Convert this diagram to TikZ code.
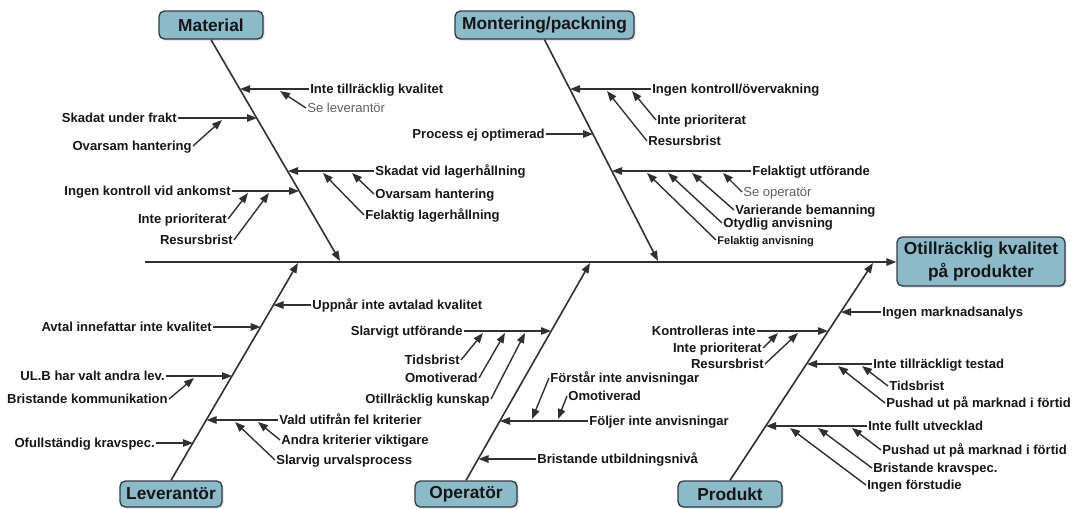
\documentclass[tikz,border=0pt]{standalone}
\usepackage{fontspec}
\setmainfont{Liberation Sans}
\usetikzlibrary{arrows.meta,shadows}
\definecolor{boxfill}{RGB}{141,186,201}
\definecolor{boxline}{RGB}{50,60,66}
\definecolor{ink}{RGB}{22,22,22}
\definecolor{wirec}{RGB}{48,48,48}
\definecolor{notec}{RGB}{95,95,95}
\begin{document}
\begin{tikzpicture}[x=0.75pt,y=-0.75pt,
  arr/.style={-{Triangle[length=7.5pt,width=5.6pt]}},
  spineline/.style={draw=wirec, line width=1.3pt, arr},
  boneline/.style={draw=wirec, line width=1.2pt, arr},
  branch/.style={draw=wirec, line width=1.05pt, arr},
  cause/.style={font=\bfseries\fontsize{9.8pt}{11pt}\selectfont, text=ink,
                inner sep=0.8pt, text height=7pt, text depth=0pt},
  smallcause/.style={cause, font=\bfseries\fontsize{8.3pt}{10pt}\selectfont, text height=6pt},
  note/.style={cause, font=\fontsize{9.8pt}{11pt}\selectfont, text=notec},
  cat/.style={draw=boxline, line width=1pt, fill=boxfill, rounded corners=4pt,
              font=\bfseries\fontsize{13pt}{17pt}\selectfont, text=ink, inner sep=0pt,
              align=center,
              drop shadow={opacity=.28, shadow xshift=1.2pt, shadow yshift=-1.2pt}}]
\useasboundingbox (0,0) rectangle (1075,508);

% effect and spine
\node[cat, minimum width=126pt, minimum height=36.75pt] (eff) at (981,261.5)
  {Otillräcklig kvalitet\\på produkter};
\coordinate (s0) at (145,262);
\draw[spineline] (s0) -- (eff.west |- s0);

% category boxes
\node[cat, minimum width=78pt,    minimum height=21pt]   (mat) at (211,25)   {Material};
\node[cat, minimum width=134.25pt, minimum height=21pt]  (mon) at (544.5,25) {Montering/packning};
\node[cat, minimum width=76.5pt,  minimum height=19.5pt] (lev) at (171,494)  {Leverantör};
\node[cat, minimum width=76.5pt,  minimum height=19.5pt] (ope) at (466,494)  {Operatör};
\node[cat, minimum width=78pt,    minimum height=19.5pt] (pro) at (730,494)  {Produkt};

% main bones
\coordinate (matT) at (340,261);
\coordinate (monT) at (658,261);
\coordinate (levT) at (298,263);
\coordinate (opeT) at (590,263);
\coordinate (proT) at (873,263);
\draw[boneline] (mat.south) -- (matT);
\draw[boneline] (mon.south) -- (monT);
\draw[boneline] (lev.north) -- (levT);
\draw[boneline] (ope.north) -- (opeT);
\draw[boneline] (pro.north) -- (proT);

% ---------- Material ----------
\node[cause, anchor=west] (mA)  at (309,89)  {Inte tillräcklig kvalitet};
\node[note,  anchor=west] (mA1) at (306,108) {Se leverantör};
\node[cause, anchor=east] (mB)  at (178,118) {Skadat under frakt};
\node[cause, anchor=east] (mB1) at (193,146) {Ovarsam hantering};
\node[cause, anchor=west] (mC)  at (374,171) {Skadat vid lagerhållning};
\node[cause, anchor=west] (mC1) at (374,194) {Ovarsam hantering};
\node[cause, anchor=west] (mC2) at (364,215) {Felaktig lagerhållning};
\node[cause, anchor=east] (mD)  at (232,191) {Ingen kontroll vid ankomst};
\node[cause, anchor=east] (mD1) at (228,219) {Inte prioriterat};
\node[cause, anchor=east] (mD2) at (234,240) {Resursbrist};
\coordinate (mAt)  at (240,89);   \coordinate (mA1t) at (280,91);
\coordinate (mBt)  at (257,118);  \coordinate (mB1t) at (222,120);
\coordinate (mCt)  at (288,171);  \coordinate (mC1t) at (352,173); \coordinate (mC2t) at (323,173);
\coordinate (mDt)  at (299,191);  \coordinate (mD1t) at (248,193); \coordinate (mD2t) at (269,193);
\draw[branch] (mA.west) -- (mAt);  \draw[branch] (mA1.west) -- (mA1t);
\draw[branch] (mB.east) -- (mBt);  \draw[branch] (mB1.east) -- (mB1t);
\draw[branch] (mC.west) -- (mCt);  \draw[branch] (mC1.west) -- (mC1t); \draw[branch] (mC2.west) -- (mC2t);
\draw[branch] (mD.east) -- (mDt);  \draw[branch] (mD1.east) -- (mD1t); \draw[branch] (mD2.east) -- (mD2t);

% ---------- Montering/packning ----------
\node[cause, anchor=west] (nA)  at (651,89)  {Ingen kontroll/övervakning};
\node[cause, anchor=west] (nA1) at (656,120) {Inte prioriterat};
\node[cause, anchor=west] (nA2) at (647,141) {Resursbrist};
\node[cause, anchor=east] (nB)  at (546,134) {Process ej optimerad};
\node[cause, anchor=west] (nC)  at (751,171) {Felaktigt utförande};
\node[note,  anchor=west] (nC1) at (742,192) {Se operatör};
\node[cause, anchor=west] (nC2) at (734,210) {Varierande bemanning};
\node[cause, anchor=west] (nC3) at (722,223) {Otydlig anvisning};
\node[smallcause, anchor=west] (nC4) at (716,240) {Felaktig anvisning};
\coordinate (nAt) at (570,89);  \coordinate (nA1t) at (632,91); \coordinate (nA2t) at (607,91);
\coordinate (nBt) at (593,134);
\coordinate (nCt) at (612,171); \coordinate (nC1t) at (723,173); \coordinate (nC2t) at (692,173);
\coordinate (nC3t) at (668,173); \coordinate (nC4t) at (647,173);
\draw[branch] (nA.west) -- (nAt); \draw[branch] (nA1.west) -- (nA1t); \draw[branch] (nA2.west) -- (nA2t);
\draw[branch] (nB.east) -- (nBt);
\draw[branch] (nC.west) -- (nCt); \draw[branch] (nC1.west) -- (nC1t); \draw[branch] (nC2.west) -- (nC2t);
\draw[branch] (nC3.west) -- (nC3t); \draw[branch] (nC4.west) -- (nC4t);

% ---------- Leverantör ----------
\node[cause, anchor=west] (lA)  at (311,305) {Uppnår inte avtalad kvalitet};
\node[cause, anchor=east] (lB)  at (213,327) {Avtal innefattar inte kvalitet};
\node[cause, anchor=east] (lC)  at (166,376) {UL.B har valt andra lev.};
\node[cause, anchor=east] (lC1) at (169,399) {Bristande kommunikation};
\node[cause, anchor=west] (lD)  at (278,420) {Vald utifrån fel kriterier};
\node[cause, anchor=west] (lD1) at (280,440) {Andra kriterier viktigare};
\node[cause, anchor=west] (lD2) at (275,460) {Slarvig urvalsprocess};
\node[cause, anchor=east] (lE)  at (156,443) {Ofullständig kravspec.};
\coordinate (lAt) at (273.5,305); \coordinate (lBt) at (260.7,327);
\coordinate (lCt) at (232,376);   \coordinate (lC1t) at (194,378);
\coordinate (lDt) at (206.5,420); \coordinate (lD1t) at (258,422); \coordinate (lD2t) at (235,422);
\coordinate (lEt) at (193,443);
\draw[branch] (lA.west) -- (lAt); \draw[branch] (lB.east) -- (lBt);
\draw[branch] (lC.east) -- (lCt); \draw[branch] (lC1.east) -- (lC1t);
\draw[branch] (lD.west) -- (lDt); \draw[branch] (lD1.west) -- (lD1t); \draw[branch] (lD2.west) -- (lD2t);
\draw[branch] (lE.east) -- (lEt);

% ---------- Operatör ----------
\node[cause, anchor=east] (oA)  at (464,331) {Slarvigt utförande};
\node[cause, anchor=east] (oA1) at (461,360) {Tidsbrist};
\node[cause, anchor=east] (oA2) at (479,378) {Omotiverad};
\node[cause, anchor=east] (oA3) at (491,399) {Otillräcklig kunskap};
\node[cause, anchor=west] (oB)  at (588,421) {Följer inte anvisningar};
\node[cause, anchor=west] (oB1) at (549,378) {Förstår inte anvisningar};
\node[cause, anchor=west] (oB2) at (567,396) {Omotiverad};
\node[cause, anchor=west] (oC)  at (536,459) {Bristande utbildningsnivå};
\coordinate (oAt) at (551,331); \coordinate (oA1t) at (483,333); \coordinate (oA2t) at (505,333);
\coordinate (oA3t) at (525,333);
\coordinate (oBt) at (500,421); \coordinate (oB1t) at (532,419); \coordinate (oB2t) at (558,419);
\coordinate (oCt) at (478.5,459);
\draw[branch] (oA.east) -- (oAt); \draw[branch] (oA1.east) -- (oA1t); \draw[branch] (oA2.east) -- (oA2t);
\draw[branch] (oA3.east) -- (oA3t);
\draw[branch] (oB.west) -- (oBt); \draw[branch] (oB1.west) -- (oB1t); \draw[branch] (oB2.west) -- (oB2t);
\draw[branch] (oC.west) -- (oCt);

% ---------- Produkt ----------
\node[cause, anchor=west] (pA)  at (881,312) {Ingen marknadsanalys};
\node[cause, anchor=east] (pB)  at (757,331) {Kontrolleras inte};
\node[cause, anchor=east] (pB1) at (763,348) {Inte prioriterat};
\node[cause, anchor=east] (pB2) at (765,364) {Resursbrist};
\node[cause, anchor=west] (pC)  at (872,364) {Inte tillräckligt testad};
\node[cause, anchor=west] (pC1) at (888,386) {Tidsbrist};
\node[cause, anchor=west] (pC2) at (885,403) {Pushad ut på marknad i förtid};
\node[cause, anchor=west] (pD)  at (867,426) {Inte fullt utvecklad};
\node[cause, anchor=west] (pD1) at (881,450) {Pushad ut på marknad i förtid};
\node[cause, anchor=west] (pD2) at (872,468) {Bristande kravspec.};
\node[cause, anchor=west] (pD3) at (866,485) {Ingen förstudie};
\coordinate (pAt) at (841,312);
\coordinate (pBt) at (828,331); \coordinate (pB1t) at (778,333); \coordinate (pB2t) at (798,333);
\coordinate (pCt) at (807,364); \coordinate (pC1t) at (862,366); \coordinate (pC2t) at (838,366);
\coordinate (pDt) at (766,426); \coordinate (pD1t) at (852,428); \coordinate (pD2t) at (818,428);
\coordinate (pD3t) at (790,428);
\draw[branch] (pA.west) -- (pAt);
\draw[branch] (pB.east) -- (pBt); \draw[branch] (pB1.east) -- (pB1t); \draw[branch] (pB2.east) -- (pB2t);
\draw[branch] (pC.west) -- (pCt); \draw[branch] (pC1.west) -- (pC1t); \draw[branch] (pC2.west) -- (pC2t);
\draw[branch] (pD.west) -- (pDt); \draw[branch] (pD1.west) -- (pD1t); \draw[branch] (pD2.west) -- (pD2t);
\draw[branch] (pD3.west) -- (pD3t);
\end{tikzpicture}
\end{document}
